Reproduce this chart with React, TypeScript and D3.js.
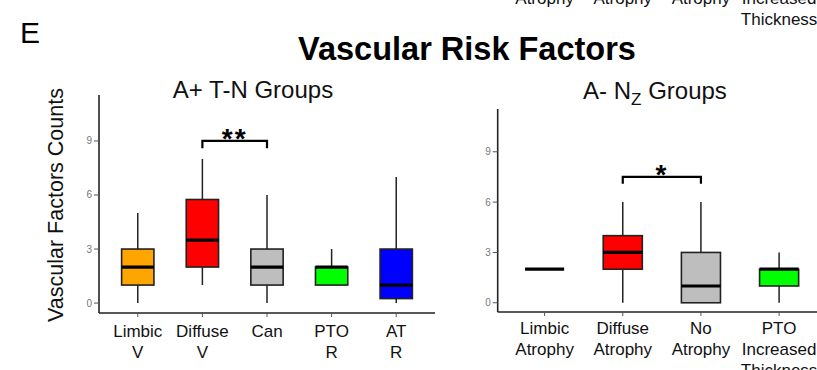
import * as d3 from 'd3';

// ---- data ----
const leftCategories = ['Limbic V', 'Diffuse V', 'Can', 'PTO R', 'AT R'];
const leftLabels = [['Limbic', 'V'], ['Diffuse', 'V'], ['Can'], ['PTO', 'R'], ['AT', 'R']];
// [min, q1, median, q3, max]
const leftStats = [
  [0, 1, 2, 3, 5],
  [1, 2, 3.5, 5.75, 8],
  [0, 1, 2, 3, 6],
  [1, 1, 2, 2, 3],
  [0, 0.25, 1, 3, 7],
];
const leftColors = ['#FFA500', '#FF0000', '#BEBEBE', '#00FF00', '#0000FF'];
const leftSig = { from: 'Diffuse V', to: 'Can', y: 9, drop: 0.4, label: '**' };

const rightCategories = ['Limbic Atrophy', 'Diffuse Atrophy', 'No Atrophy', 'PTO Increased Thickness'];
const rightLabels = [['Limbic', 'Atrophy'], ['Diffuse', 'Atrophy'], ['No', 'Atrophy'], ['PTO', 'Increased', 'Thickness']];
const rightStats = [
  [2, 2, 2, 2, 2],
  [0, 2, 3, 4, 6],
  [0, 0, 1, 3, 6],
  [0, 1, 2, 2, 3],
];
const rightColors = ['#FFA500', '#FF0000', '#BEBEBE', '#00FF00'];
const rightSig = { from: 'Diffuse Atrophy', to: 'No Atrophy', y: 7.5, drop: 0.4, label: '*' };

const yTicks = [0, 3, 6, 9];
const yDomain = [-0.55, 11.55];

const FONT = '"Liberation Sans", Arial, Helvetica, sans-serif';

function Panel({ categories, labels, stats, colors, sig, x0, x1, yTop, yBottom, labelBaseline }) {
  const x = d3.scaleBand().domain(categories).range([x0, x1]).paddingInner(0.5).paddingOuter(0.35);
  const y = d3.scaleLinear().domain(yDomain).range([yBottom, yTop]);
  const bw = x.bandwidth();
  const cx = (c) => x(c) + bw / 2;

  return (
    <g>
      {/* y axis */}
      <line x1={x0} x2={x0} y1={yTop} y2={yBottom} stroke="#222" strokeWidth={1.6} />
      {yTicks.map((t) => (
        <g key={t}>
          <line x1={x0 - 5} x2={x0} y1={y(t)} y2={y(t)} stroke="#555" strokeWidth={1} />
          <text x={x0 - 7} y={y(t)} dy="0.35em" textAnchor="end" fontSize={10} fill="#777" fontFamily={FONT}>{t}</text>
        </g>
      ))}
      {/* x axis */}
      <line x1={x0} x2={x1} y1={yBottom} y2={yBottom} stroke="#222" strokeWidth={1.6} />
      {categories.map((c, i) => (
        <g key={c}>
          <line x1={cx(c)} x2={cx(c)} y1={yBottom} y2={yBottom + 4} stroke="#555" strokeWidth={1} />
          <text textAnchor="middle" fontSize={17} fill="#111" fontFamily={FONT}>
            {labels[i].map((l, j) => (
              <tspan key={j} x={cx(c)} y={labelBaseline + j * 21}>{l}</tspan>
            ))}
          </text>
        </g>
      ))}
      {/* boxes */}
      {categories.map((c, i) => {
        const [mn, q1, md, q3, mx] = stats[i];
        return (
          <g key={c}>
            <line x1={cx(c)} x2={cx(c)} y1={y(mx)} y2={y(q3)} stroke="#222" strokeWidth={1.5} />
            <line x1={cx(c)} x2={cx(c)} y1={y(q1)} y2={y(mn)} stroke="#222" strokeWidth={1.5} />
            <rect x={x(c)} width={bw} y={y(q3)} height={y(q1) - y(q3)} fill={colors[i]} stroke="#222" strokeWidth={1.6} />
            <line x1={x(c)} x2={x(c) + bw} y1={y(md)} y2={y(md)} stroke="#000" strokeWidth={3.2} />
          </g>
        );
      })}
      {/* significance bracket */}
      <path
        d={`M${cx(sig.from)},${y(sig.y - sig.drop)}V${y(sig.y)}H${cx(sig.to)}V${y(sig.y - sig.drop)}`}
        fill="none" stroke="#000" strokeWidth={2.2}
      />
      <text x={(cx(sig.from) + cx(sig.to)) / 2} y={y(sig.y) + 7} textAnchor="middle" fontSize={28} fontWeight="bold" letterSpacing={2} fontFamily={FONT}>{sig.label}</text>
    </g>
  );
}

export default function App() {
  // labels from the panel above, cut off at the top edge
  const xTop = d3.scaleBand().domain(rightCategories).range([497.7, 826]).paddingInner(0.5).paddingOuter(0.35);
  return (
    <svg width={817} height={370} style={{ position: 'absolute', left: 0, top: 0, background: '#fff' }}>
      <rect width={817} height={370} fill="#fff" />
      {rightCategories.map((c, i) => (
        <text key={c} textAnchor="middle" fontSize={17} fill="#111" fontFamily={FONT}>
          {rightLabels[i].slice(1).map((l, j) => (
            <tspan key={j} x={xTop(c) + xTop.bandwidth() / 2} y={4 + j * 21}>{l}</tspan>
          ))}
        </text>
      ))}
      <text x={20} y={43} fontSize={30} fill="#000" fontFamily={FONT}>E</text>
      <text x={467} y={60} textAnchor="middle" fontSize={32.5} fontWeight="bold" fill="#000" fontFamily={FONT}>Vascular Risk Factors</text>

      <text x={253} y={98} textAnchor="middle" fontSize={24} fill="#111" fontFamily={FONT}>A+ T-N Groups</text>
      <text transform="translate(63,205) rotate(-90)" textAnchor="middle" fontSize={21.5} fill="#111" fontFamily={FONT}>Vascular Factors Counts</text>
      <Panel
        categories={leftCategories} labels={leftLabels} stats={leftStats} colors={leftColors} sig={leftSig}
        x0={99} x1={435} yTop={95} yBottom={313} labelBaseline={337}
      />

      <text x={655} y={99} textAnchor="middle" fontSize={24} fill="#111" fontFamily={FONT}>
        A- N<tspan fontSize={17} dy={6}>Z</tspan><tspan dy={-6}> Groups</tspan>
      </text>
      <Panel
        categories={rightCategories} labels={rightLabels} stats={rightStats} colors={rightColors} sig={rightSig}
        x0={497.7} x1={826} yTop={109} yBottom={312} labelBaseline={334}
      />
    </svg>
  );
}
